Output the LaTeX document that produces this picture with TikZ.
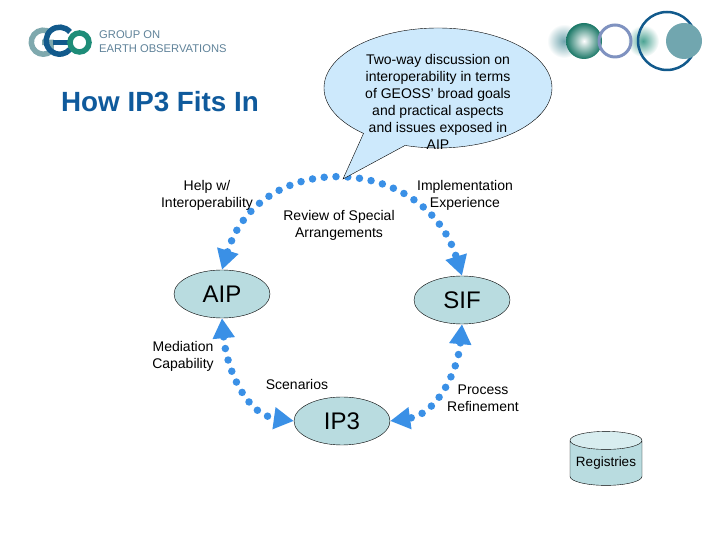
\documentclass[tikz,border=0pt]{standalone}
\usepackage{fontspec}
\setmainfont{Liberation Sans}
\usepackage{tikz}
\usetikzlibrary{arrows.meta,positioning,shapes.geometric,shapes.callouts}
\definecolor{titleblue}{HTML}{0F5A9C}
\definecolor{nodeteal}{HTML}{B9DCE0}
\definecolor{capteal}{HTML}{D8EDEF}
\definecolor{bubbleblue}{HTML}{CDE9FC}
\definecolor{dotblue}{HTML}{3A90E6}
\definecolor{logogray}{HTML}{5F8299}
\definecolor{logoteal}{HTML}{7FA9AE}
\definecolor{logonavy}{HTML}{125A8C}
\definecolor{logogreen}{HTML}{1E8C78}
\definecolor{ringblue}{HTML}{7F92C0}
\definecolor{diskteal}{HTML}{71A6AF}
\tikzset{
  stage/.style={
    ellipse,
    draw=black,
    fill=nodeteal,
    minimum width=96pt,
    minimum height=48pt,
    inner sep=0pt,
    font=\fontsize{24}{26}\selectfont
  },
  caption/.style={
    align=center,
    inner sep=0pt,
    font=\fontsize{14}{17}\selectfont
  },
  dotarrow/.style={
    {Triangle[length=20pt,width=21pt]}-{Triangle[length=20pt,width=21pt]},
    line width=7.5pt,
    line cap=round,
    dash pattern=on 0pt off 11.8pt,
    draw=dotblue
  }
}
\begin{document}
\begin{tikzpicture}[x=1pt,y=1pt]
\useasboundingbox (0,0) rectangle (720,540);

% logo, left
\draw[logoteal,line width=5.5pt] (51,507) arc (50:310:12) -- ++(0,9) -- ++(-9,0);
\draw[logonavy,line width=5.5pt] (70,508) arc (40:320:13.5);
\draw[logonavy,line width=5pt] (53,497.5) -- (69,497.5);
\draw[logogreen,line width=5.5pt] (79.5,497.5) circle (9.5);
\node[anchor=west,inner sep=0pt,align=left,text=logogray,
  font=\fontsize{11.2}{14}\selectfont] (logotext) at (99,498) {GROUP ON\\EARTH OBSERVATIONS};

% logo, right
\shade[inner color=diskteal,outer color=white,draw=none] (564,499) circle (17);
\shade[inner color=logogreen!80,outer color=white,draw=none] (643,499) circle (16);
\shade[inner color=white,outer color=logogreen!85!black,draw=none] (584,499) circle (18);
\draw[ringblue,line width=3pt] (615,499) circle (16);
\draw[logonavy,line width=2.5pt] (667,499) circle (29);
\fill[diskteal] (684,499) circle (18);

\node[inner sep=0pt,text=titleblue,font=\fontsize{27.8}{30}\selectfont\bfseries] (title) at (160,438) {How IP3 Fits In};

% stages
\node[stage] (AIP) at (222,246) {AIP};
\node[stage] (SIF) at (462,240) {SIF};
\node[stage] (IP3) at (342,119) {IP3};
\node[cylinder,shape border rotate=90,aspect=0.3,draw=black,cylinder uses custom fill,
  cylinder body fill=nodeteal,cylinder end fill=capteal,minimum width=72pt,minimum height=54pt,
  inner sep=0pt,font=\fontsize{13.5}{17}\selectfont] (registries) at (606,77) {Registries};

\draw[dotarrow] (AIP.north) to[out=73,in=107,looseness=1.36] (SIF.north);
\draw[dotarrow] (AIP.south) to[out=-85,in=172,looseness=1] (IP3.west);
\draw[dotarrow] (SIF.south) to[out=-95,in=8,looseness=1] (IP3.east);

\coordinate (bubbletip) at (343,361);
\node[ellipse callout,draw=black,fill=bubbleblue,minimum width=228pt,minimum height=120pt,
  inner sep=0pt,callout absolute pointer={(bubbletip)},callout pointer arc=24] (bubble) at (438,452) {};
\node[caption] (bubbletext) at (438,438) {Two-way discussion on\\interoperability in terms\\of GEOSS' broad goals\\and practical aspects\\and issues exposed in\\AIP};

\node[caption] (help) at (207,345) {Help w/\\Interoperability};
\node[caption] (review) at (339,315) {Review of Special\\Arrangements};
\node[caption] (impl) at (465,345) {Implementation\\Experience};
\node[caption] (mediation) at (183,184) {Mediation\\Capability};
\node[caption] (scenarios) at (297,155) {Scenarios};
\node[caption] (process) at (483,142) {Process\\Refinement};

\end{tikzpicture}
\end{document}
